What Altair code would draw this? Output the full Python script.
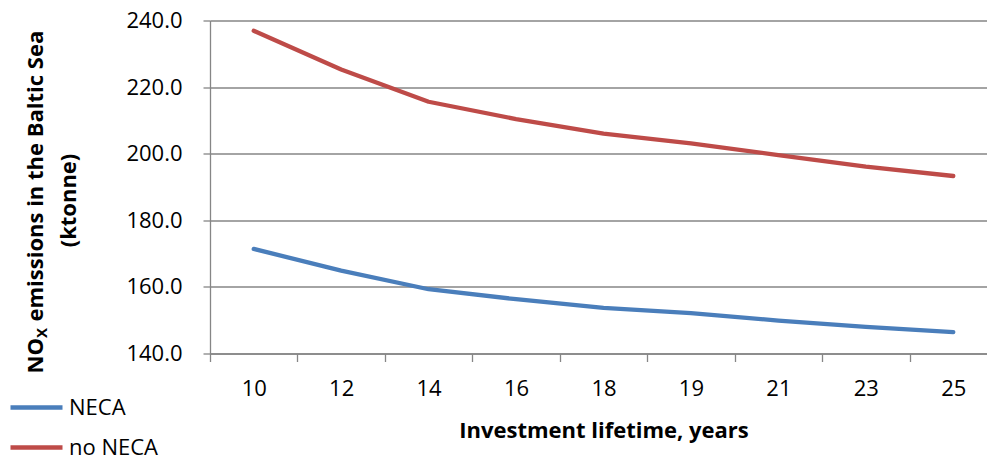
import altair as alt
import pandas as pd

# Investment lifetime categories (years) and NOx emissions (ktonne)
lifetimes = ["10", "12", "14", "16", "18", "19", "21", "23", "25"]
neca = [171.4, 164.9, 159.3, 156.3, 153.7, 152.1, 149.9, 148.0, 146.4]
no_neca = [236.9, 225.3, 215.6, 210.4, 206.0, 203.1, 199.6, 196.1, 193.3]
series_names = ["NECA", "no NECA"]
series_colors = ["#4A7EBB", "#BE4B48"]
y_ticks = [140, 160, 180, 200, 220, 240]

rows = []
for name, values in zip(series_names, [neca, no_neca]):
    for yr, v in zip(lifetimes, values):
        rows.append({"lifetime": yr, "emissions": v, "scenario": name})
df = pd.DataFrame(rows)

FONT = "Open Sans"
GREY = "#868686"

lines = alt.Chart(df).mark_line(
    strokeWidth=4.3, strokeCap="round", strokeJoin="round"
).encode(
    x=alt.X(
        "lifetime:O",
        sort=lifetimes,
        bandPosition=0.5,
        scale=alt.Scale(type="band", range=[0, 787], paddingInner=0, paddingOuter=0),
        axis=alt.Axis(
            title="Investment lifetime, years",
            titleFont=FONT, titleFontSize=22, titleFontWeight="bold", titleColor="black",
            titleBaseline="alphabetic", titleY=84, titleX=393.5,
            labelFont=FONT, labelFontSize=22, labelColor="black",
            labelBaseline="alphabetic", labelPadding=34, labelAngle=0,
            tickBand="extent", tickSize=8, tickColor=GREY, tickWidth=1.3,
            domainColor=GREY, domainWidth=1.3, grid=False,
        ),
    ),
    y=alt.Y(
        "emissions:Q",
        scale=alt.Scale(domain=[140, 240], nice=False, zero=False),
        axis=alt.Axis(
            title=None, values=y_ticks, format=".1f",
            labelFont=FONT, labelFontSize=22, labelColor="black",
            labelPadding=21, tickSize=7, tickColor=GREY, tickWidth=1.3,
            domainColor=GREY, domainWidth=1.3,
            grid=True, gridColor=GREY, gridWidth=1.3,
        ),
    ),
    color=alt.Color(
        "scenario:N",
        sort=series_names,
        scale=alt.Scale(domain=series_names, range=series_colors),
        legend=alt.Legend(
            title=None, orient="none", legendX=-202, legendY=376,
            direction="vertical", symbolType="stroke", symbolSize=2704,
            symbolStrokeWidth=4.3, labelFont=FONT, labelFontSize=22,
            labelColor="black", labelOffset=4, rowPadding=18, clipHeight=22,
            padding=0,
        ),
    ),
)

one = alt.Data(values=[{}])
title_style = dict(font=FONT, fontWeight="bold", color="black", angle=270,
                   baseline="alphabetic")

t_no = alt.Chart(one).mark_text(text="NO", fontSize=22, align="left", **title_style).encode(
    x=alt.value(-167.5), y=alt.value(353)
)
t_x = alt.Chart(one).mark_text(text="X", fontSize=15, align="left", **title_style).encode(
    x=alt.value(-163.5), y=alt.value(317.5)
)
t_rest = alt.Chart(one).mark_text(
    text="emissions in the Baltic Sea", fontSize=22, align="left", **title_style
).encode(x=alt.value(-167.5), y=alt.value(301))
t_unit = alt.Chart(one).mark_text(text="(ktonne)", fontSize=22, align="center", **title_style).encode(
    x=alt.value(-134.5), y=alt.value(180)
)

chart = alt.layer(lines, t_no, t_x, t_rest, t_unit).properties(
    width=777,
    height=333,
    autosize=alt.AutoSizeParams(type="none"),
    padding={"left": 210, "top": 20.5, "right": 0, "bottom": 105.5},
    background="white",
).configure_view(stroke=None)

chart.save("out.html", embed_options={"renderer": "svg", "actions": False})
